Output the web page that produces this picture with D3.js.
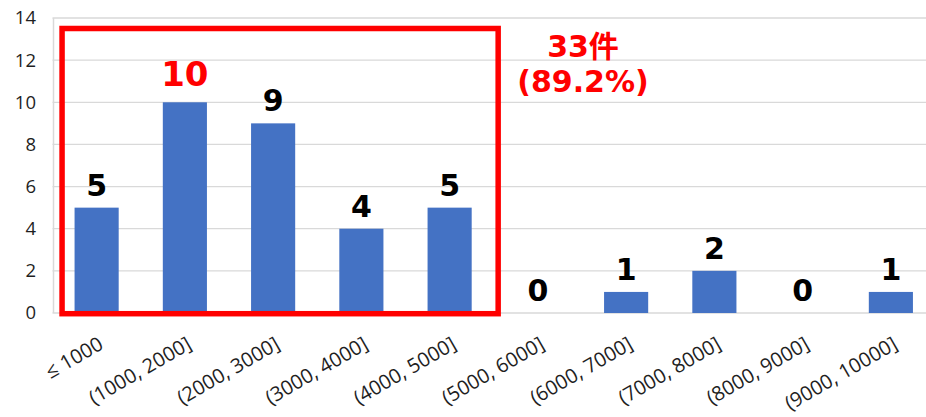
<!DOCTYPE html>
<html><head><meta charset="utf-8">
<script src="https://cdn.jsdelivr.net/npm/d3@7"></script>
<style>body{margin:0;background:#fff}</style>
</head><body>
<svg id="c" width="926" height="417"></svg>
<script>
const categories = ["≤ 1000","(1000, 2000]","(2000, 3000]","(3000, 4000]","(4000, 5000]","(5000, 6000]","(6000, 7000]","(7000, 8000]","(8000, 9000]","(9000, 10000]"];
const values = [5,10,9,4,5,0,1,2,0,1];
const yTicks = [0,2,4,6,8,10,12,14];
const highlightIndex = 1;
const boxRange = [0,4];
const noteLines = ["33件","(89.2%)"];

const svg = d3.select("#c");
const m = {l:52.5, r:935, t:18, b:313};
const x = d3.scaleBand().domain(categories).range([m.l, m.r]).paddingInner(0.5).paddingOuter(0.25);
const y = d3.scaleLinear().domain([0,14]).range([m.b, m.t]);
const font = "'Open Sans','Noto Sans',sans-serif";
const boldFont = "'DejaVu Sans','Noto Sans CJK JP',sans-serif";

// gridlines
svg.append("g").selectAll("line").data(yTicks).join("line")
  .attr("x1", m.l).attr("x2", m.r).attr("y1", d=>y(d)).attr("y2", d=>y(d))
  .attr("stroke", "#d9d9d9").attr("stroke-width", 1.3);
svg.append("line").attr("x1", m.l+1).attr("x2", m.l+1).attr("y1", m.t).attr("y2", m.b)
  .attr("stroke", "#d9d9d9").attr("stroke-width", 1.5);

// y labels
svg.append("g").selectAll("text").data(yTicks).join("text")
  .attr("x", 36).attr("y", d=>y(d)).attr("dy","0.35em").attr("text-anchor","end")
  .attr("font-family", font).attr("font-size", 18.5).attr("fill","#1f1f1f").text(d=>d);

// bars
svg.append("g").selectAll("rect").data(values).join("rect")
  .attr("x", (d,i)=>x(categories[i])).attr("width", x.bandwidth())
  .attr("y", d=>y(d)).attr("height", d=>y(0)-y(d)).attr("fill","#4472C4");

// data labels
svg.append("g").selectAll("text").data(values).join("text")
  .attr("x", (d,i)=>x(categories[i])+x.bandwidth()/2).attr("y", (d,i)=>y(d)-(i===highlightIndex?16:12))
  .attr("text-anchor","middle").attr("font-family",boldFont)
  .attr("font-weight","bold").attr("font-size",(d,i)=>i===highlightIndex?34:30)
  .attr("fill",(d,i)=>i===highlightIndex?"#ff0000":"#000").text(d=>d);

// x labels
svg.append("g").selectAll("text").data(categories).join("text")
  .attr("transform", d=>`translate(${x(d)+x.bandwidth()/2+8},${m.b+35}) rotate(-30)`)
  .attr("text-anchor","end").attr("font-family", font).attr("font-size",20)
  .attr("fill","#1f1f1f").text(d=>d);

// red box
const step = x.step();
const bx0 = x(categories[boxRange[0]]) - 12.5;
const bx1 = x(categories[boxRange[1]]) + x.bandwidth() + step*0.3;
svg.append("rect").attr("x", bx0).attr("y", 28.5).attr("width", bx1-bx0).attr("height", y(0)+0.7-28.5)
  .attr("fill","none").attr("stroke","#ff0000").attr("stroke-width",5.5);

// note
svg.append("g").selectAll("text").data(noteLines).join("text")
  .attr("x", 583).attr("y",(d,i)=>57+i*35).attr("text-anchor","middle")
  .attr("font-family",boldFont).attr("font-weight","bold")
  .attr("font-size",30).attr("fill","#ff0000").text(d=>d);
</script>
</body></html>
